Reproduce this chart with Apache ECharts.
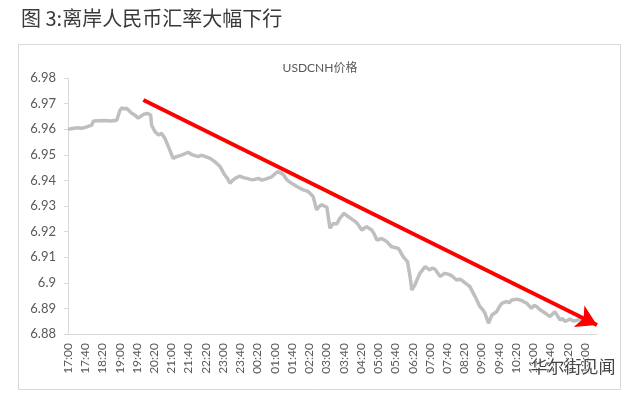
<!DOCTYPE html>
<html>
<head>
<meta charset="utf-8">
<script src="https://cdn.jsdelivr.net/npm/echarts@6/dist/echarts.min.js"></script>
<style>
html,body{margin:0;padding:0;background:#fff;}
#c{width:640px;height:399px;}
</style>
</head>
<body>
<div id="c"></div>
<script>
const titleText = '图 3:离岸人民币汇率大幅下行';
const seriesName = 'USDCNH价格';
const yTicks = [6.88, 6.89, 6.90, 6.91, 6.92, 6.93, 6.94, 6.95, 6.96, 6.97, 6.98];
const times = ['17:00','17:10','17:23','17:32','17:42','17:55','17:59','18:12','18:26','18:40','18:53','18:57','19:01','19:05','19:10','19:16','19:22','19:28','19:36','19:43','19:51','19:57','20:04','20:12','20:14','20:22','20:30','20:37','20:45','20:53','21:04','21:12','21:20','21:28','21:39','21:45','21:51','22:02','22:09','22:16','22:30','22:41','22:53','23:04','23:10','23:16','23:22','23:28','23:39','23:47','23:55','00:03','00:10','00:22','00:30','00:37','00:45','00:53','01:00','01:06','01:16','01:22','01:28','01:39','01:45','01:51','02:06','02:12','02:18','02:29','02:37','02:43','02:49','03:01','03:08','03:16','03:24','03:31','03:41','03:46','03:51','04:02','04:08','04:14','04:22','04:28','04:33','04:45','04:51','04:57','05:08','05:20','05:31','05:39','05:47','05:58','06:08','06:14','06:18','06:25','06:31','06:37','06:49','07:00','07:06','07:12','07:24','07:35','07:44','07:51','08:02','08:10','08:18','08:33','08:45','08:56','09:02','09:08','09:16','09:24','09:35','09:41','09:47','09:58','10:04','10:10','10:22','10:33','10:39','10:45','10:56','11:02','11:08','11:15','11:23','11:31','11:39','11:50','11:56','12:02','12:08','12:14','12:25','12:33','12:41','12:48','12:56','13:07'];
const values = [6.9600,6.9603,6.9606,6.9604,6.9608,6.9616,6.9632,6.9633,6.9634,6.9632,6.9635,6.9640,6.9675,6.9684,6.9679,6.9682,6.9672,6.9662,6.9654,6.9643,6.9653,6.9659,6.9662,6.9655,6.9616,6.9590,6.9577,6.9584,6.9564,6.9532,6.9486,6.9493,6.9497,6.9502,6.9510,6.9503,6.9499,6.9493,6.9498,6.9495,6.9486,6.9473,6.9454,6.9421,6.9408,6.9389,6.9400,6.9408,6.9417,6.9411,6.9408,6.9404,6.9402,6.9408,6.9401,6.9404,6.9409,6.9414,6.9425,6.9434,6.9428,6.9418,6.9402,6.9389,6.9383,6.9376,6.9363,6.9360,6.9356,6.9337,6.9285,6.9298,6.9305,6.9295,6.9213,6.9232,6.9230,6.9252,6.9272,6.9264,6.9258,6.9245,6.9238,6.9226,6.9206,6.9214,6.9219,6.9206,6.9190,6.9167,6.9173,6.9161,6.9141,6.9138,6.9134,6.9102,6.9083,6.9025,6.8972,6.8991,6.9015,6.9037,6.9063,6.9050,6.9058,6.9053,6.9025,6.9037,6.9033,6.9027,6.9011,6.9014,6.9005,6.8985,6.8946,6.8907,6.8897,6.8881,6.8842,6.8874,6.8887,6.8905,6.8920,6.8927,6.8922,6.8933,6.8936,6.8931,6.8925,6.8920,6.8900,6.8912,6.8907,6.8896,6.8887,6.8878,6.8868,6.8887,6.8872,6.8855,6.8860,6.8849,6.8858,6.8851,6.8853,6.8857,6.8853,6.8850];
const axisStart = '17:00';
const axisEnd = '13:28';
const arrowStart = ['19:55', 6.9714];
const arrowEnd = ['13:28', 6.8835];
const watermark = '华尔街见闻';

const toMinBase = 17*60;
function toMin(t){
  const p = t.split(':').map(Number);
  let m = p[0]*60 + p[1] - toMinBase;
  if (m < 0) m += 1440;
  return m;
}
function fmt(m){
  const tot = (m + toMinBase) % 1440;
  const h = Math.floor(tot/60), mm = tot % 60;
  return String(h).padStart(2,'0') + ':' + String(mm).padStart(2,'0');
}
const lineData = times.map((t,i)=>[toMin(t), values[i]]);

const chart = echarts.init(document.getElementById('c'), null, {renderer:'canvas'});
const latin = 'Lato, "Noto Sans CJK SC", sans-serif';
chart.setOption({
  animation:false,
  backgroundColor:'#fff',
  title:[
    {text:titleText, left:16, top:3, textStyle:{fontFamily:'"Noto Sans CJK SC", sans-serif', fontSize:20, fontWeight:'normal', color:'#3a3a3a'}},
    {text:seriesName, left:'center', top:57, textStyle:{fontFamily:latin, fontSize:12, fontWeight:'normal', color:'#595959'}}
  ],
  graphic:[
    {type:'rect', left:16, top:42, shape:{width:602, height:345}, style:{fill:'none', stroke:'#D9D9D9', lineWidth:1}, z:-1},
    {type:'text', right:24, top:358, style:{text:watermark, font:'17px "Noto Sans CJK SC"', fill:'#444', stroke:'#fff', lineWidth:1}, z:100}
  ],
  grid:{left:68, right:43, top:78, bottom:65},
  xAxis:{
    type:'value', min:toMin(axisStart), max:toMin(axisEnd), interval:40,
    axisLine:{show:true, lineStyle:{color:'#D9D9D9', width:1}},
    axisTick:{show:false},
    splitLine:{show:false},
    axisLabel:{rotate:90, margin:9, fontSize:12, color:'#595959', fontFamily:latin, showMaxLabel:false, formatter:v=>fmt(v)}
  },
  yAxis:{
    type:'value', min:yTicks[0], max:yTicks[yTicks.length-1], interval:0.01,
    axisLine:{show:true, lineStyle:{color:'#D9D9D9', width:1}},
    axisTick:{show:true, inside:false, length:4, lineStyle:{color:'#D9D9D9'}},
    splitLine:{show:false},
    axisLabel:{fontSize:13, color:'#595959', fontFamily:latin, margin:12, formatter:v=>String(parseFloat(v.toFixed(2)))}
  },
  series:[{
    type:'line', name:seriesName, data:lineData, showSymbol:false, symbol:'none',
    lineStyle:{color:'#BFBFBF', width:3.5}, z:2,
    markLine:{
      silent:true, symbol:['none','arrow'], symbolSize:[18,20], label:{show:false},
      lineStyle:{color:'#FF0000', width:4, type:'solid'},
      data:[[{coord:[toMin(arrowStart[0]), arrowStart[1]]},{coord:[toMin(arrowEnd[0]), arrowEnd[1]]}]],
      z:5
    }
  }]
});
</script>
</body>
</html>
